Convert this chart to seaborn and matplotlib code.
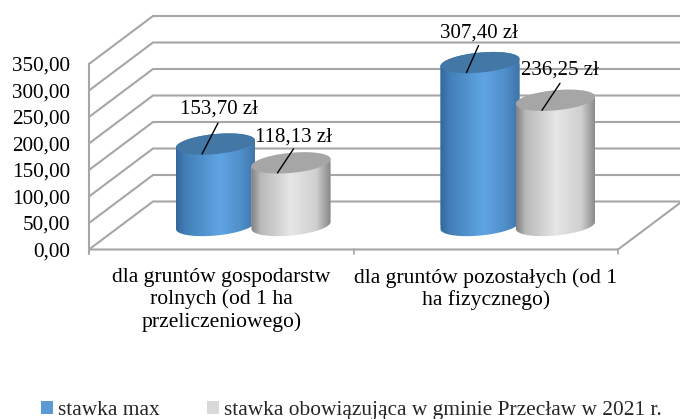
import numpy as np
import pandas as pd
import matplotlib
matplotlib.use("Agg")
import matplotlib.pyplot as plt
import seaborn as sns
from matplotlib.colors import LinearSegmentedColormap
from matplotlib.patches import Patch, Polygon

categories = ["dla gruntów gospodarstw\nrolnych (od 1 ha\nprzeliczeniowego)",
              "dla gruntów pozostałych (od 1\nha fizycznego)"]
series_names = ["stawka max", "stawka obowiązująca w gminie Przecław w 2021 r."]
stawka_max = [153.70, 307.40]
stawka_gmina = [118.13, 236.25]
y_ticks = [0, 50, 100, 150, 200, 250, 300, 350]
y_tick_labels = ["0,00", "50,00", "100,00", "150,00", "200,00", "250,00", "300,00", "350,00"]
value_labels = [["153,70 zł", "307,40 zł"], ["118,13 zł", "236,25 zł"]]

sns.set_theme(style="white")
plt.rcParams["font.family"] = ["Liberation Serif", "DejaVu Serif"]
FS = 15

W, H = 680, 419
fig = plt.figure(figsize=(W / 100, H / 100), dpi=100)
L, R, B, T = 89, 618, 249.5, 64
ax = fig.add_axes([L / W, 1 - B / H, (R - L) / W, (B - T) / H])

df = pd.DataFrame({
    "kat": categories * 2,
    "seria": [series_names[0]] * 2 + [series_names[1]] * 2,
    "v": stawka_max + stawka_gmina,
})
sns.barplot(data=df, x="kat", y="v", hue="seria", order=categories, hue_order=series_names,
            palette=["#5b9bd5", "#d9d9d9"], width=0.6, legend=False, ax=ax, saturation=1, zorder=3)
ax.set_xlim(-0.5, 1.5)
ax.set_ylim(0, 350)
ax.set_xlabel("")
ax.set_ylabel("")

px_x = (R - L) / 2
px_y = (B - T) / 350
dx, dy = 64 / px_x, 48 / px_y
GRID = "#a6a6a6"

# walls and floor
for v in y_ticks:
    ax.plot([-0.5, -0.5 + dx, 1.5 + dx], [v, v + dy, v + dy], color=GRID, lw=1.5,
            clip_on=False, zorder=1, solid_joinstyle="miter")
ax.plot([-0.5, 1.5, 1.5 + dx], [0, 0, dy], color=GRID, lw=1.5, clip_on=False, zorder=1)

for side in ["top", "right", "bottom"]:
    ax.spines[side].set_visible(False)
ax.spines["left"].set_color(GRID)
ax.spines["left"].set_linewidth(1.5)
ax.plot([-0.5, -0.5], [0, -5 / px_y], color=GRID, lw=1.5, clip_on=False, zorder=1)
for xv in [0.5, 1.5]:
    ax.plot([xv, xv], [0, -5 / px_y], color=GRID, lw=1.2, clip_on=False, zorder=1)

ax.set_yticks(y_ticks, y_tick_labels, fontsize=15.2, color="black")
ax.set_xticks([0, 1], categories, fontsize=15.6, color="black", linespacing=1.17)
ax.tick_params(axis="y", length=0, pad=13.5)
ax.tick_params(axis="x", length=0, pad=13.5)

cmaps = [
    LinearSegmentedColormap.from_list("b", [(0, "#33679a"), (0.12, "#437fb8"), (0.55, "#5fa5e3"),
                                            (0.82, "#4f8ec9"), (1, "#3f74a6")]),
    LinearSegmentedColormap.from_list("g", [(0, "#808080"), (0.12, "#b9b9b9"), (0.5, "#e6e6e6"),
                                            (0.82, "#cfcfcf"), (1, "#858585")]),
]
top_colors = ["#4377a6", "#a6a6a6"]
ELL_B, TILT = 10.0, np.radians(5.5)
t = np.linspace(0, 2 * np.pi, 121)
grad = np.linspace(0, 1, 256).reshape(1, -1)
base_v = dy / 2
shift = 0.0073


def ellipse(cx, cy, a, tt):
    a_px = a * px_x
    ex = a_px * np.cos(TILT) * np.cos(tt) - ELL_B * np.sin(TILT) * np.sin(tt)
    ey = a_px * np.sin(TILT) * np.cos(tt) + ELL_B * np.cos(TILT) * np.sin(tt)
    return cx + ex / px_x, cy + ey / px_y


leader_dx = -13.5 / px_x
leader_dy = -10 / px_y
# label layout: leader start and text centre, in pixels from leader end
leader_start = [[(16, 31), (12, 27)], [(16, 24), (18, 27)]]
text_center = [[(17, 45), (12, 40)], [(16, 36), (18, 40)]]
bars = ax.patches
n = 0
for s, vals in enumerate([stawka_max, stawka_gmina]):
    for c, v in enumerate(vals):
        bar = bars[n]
        n += 1
        sgn = -1 if s == 0 else 1
        a = bar.get_width() / 2
        cx = bar.get_x() + a + dx / 2 - sgn * shift
        bar.set_x(cx - a)
        bar.set_y(base_v)
        bar.set_height(v)
        bar.set_linewidth(0)
        lower = np.linspace(np.pi, 2 * np.pi, 61)
        xb, yb = ellipse(cx, base_v, a, lower)
        upper = np.linspace(0, np.pi, 61)
        xt, yt = ellipse(cx, base_v + v, a, upper)
        body_xy = np.column_stack([np.r_[xb, xt], np.r_[yb, yt]])
        body = Polygon(body_xy, closed=True, fc="none", ec="none", transform=ax.transData)
        ax.add_patch(body)
        body.set_clip_on(False)
        bar.set_clip_path(body)
        zb = 3 + s * 2
        bar.set_zorder(zb)
        img = ax.imshow(grad, cmap=cmaps[s], aspect="auto", zorder=zb + 0.1,
                        extent=[cx - a, cx + a, 0, base_v + v + 40], interpolation="bilinear")
        img.set_clip_path(body)
        img.set_clip_box(fig.bbox)
        xe, ye = ellipse(cx, base_v + v, a, t)
        ax.fill(xe, ye, color=top_colors[s], lw=0, clip_on=False, zorder=zb + 0.2)
        end = (cx + leader_dx, base_v + v + leader_dy)
        ax.annotate("", xy=end, xytext=leader_start[s][c], textcoords="offset pixels",
                    arrowprops=dict(arrowstyle="-", color="black", lw=1, shrinkA=0, shrinkB=0),
                    zorder=8, annotation_clip=False)
        ax.annotate(value_labels[s][c], xy=end, xytext=text_center[s][c], textcoords="offset pixels",
                    ha="center", va="center", fontsize=FS, color="black", zorder=9,
                    annotation_clip=False)

ax.set_xlim(-0.5, 1.5)
ax.set_ylim(0, 350)
ax.patch.set_alpha(0)

handles = [Patch(fc="#5b9bd5", ec="none"), Patch(fc="#d9d9d9", ec="none")]
fig.legend(handles, series_names, ncol=2, frameon=False, fontsize=15.4,
           loc="center left", bbox_to_anchor=(41 / W, 1 - 410.5 / H), handlelength=0.55,
           handleheight=0.55, handletextpad=0.25, columnspacing=2.2, borderpad=0, borderaxespad=0)

fig.savefig("out.png", dpi=100)
